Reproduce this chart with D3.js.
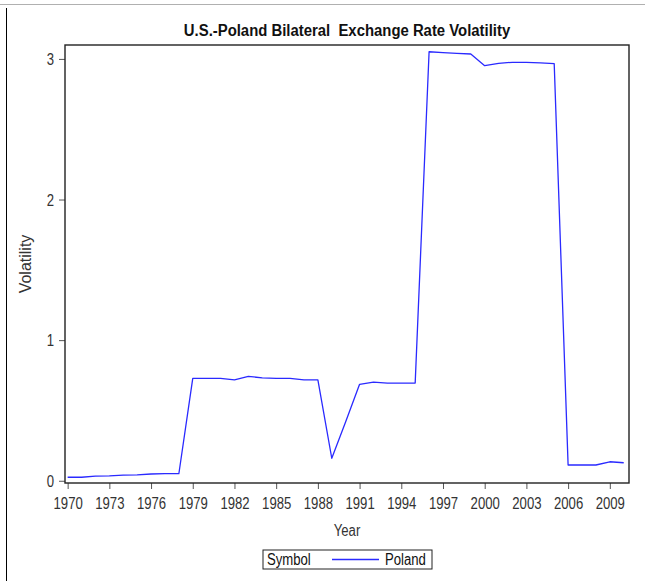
<!DOCTYPE html>
<html>
<head>
<meta charset="utf-8">
<script src="https://cdn.jsdelivr.net/npm/d3@7"></script>
<style>
  body { margin: 0; background: #fff; }
  svg text { font-family: "Liberation Sans", Arial, sans-serif; }
</style>
</head>
<body>
<div id="chart"></div>
<script>
// yearly volatility, U.S.-Poland
var years = d3.range(1970, 2011)
var volatility = [
  0.025, 0.025, 0.033, 0.035, 0.040, 0.042, 0.048, 0.050, 0.050,
  0.728, 0.728, 0.728, 0.718, 0.742, 0.732, 0.728, 0.728, 0.718, 0.718,
  0.160, 0.420, 0.686, 0.702, 0.695, 0.695, 0.695,
  3.051, 3.045, 3.040, 3.035, 2.952, 2.969, 2.976, 2.976, 2.972, 2.966,
  0.112, 0.112, 0.112, 0.135, 0.128
]
var xTicks = d3.range(1970, 2010, 3)
var yTicks = [0, 1, 2, 3]
var seriesName = 'Poland'

var W = 645, H = 581
var margin = {top: 45, right: 16, bottom: 98, left: 65}
var width = W - margin.left - margin.right
var height = H - margin.top - margin.bottom

// the original text looks horizontally condensed, so squeeze it
function squeeze (sel, k) {
  sel.each(function () {
    var w = this.getComputedTextLength()
    d3.select(this)
      .attr('textLength', w * k)
      .attr('lengthAdjust', 'spacingAndGlyphs')
  })
}

var svg = d3.select('#chart').append('svg')
  .attr('width', W)
  .attr('height', H)

// page edges
svg.append('line')
  .attr('x1', 0).attr('x2', W).attr('y1', 4.5).attr('y2', 4.5)
  .attr('stroke', '#b0b0b0')
svg.append('line')
  .attr('x1', 6.5).attr('x2', 6.5).attr('y1', 8).attr('y2', H)
  .attr('stroke', '#000')

var x = d3.scaleLinear()
  .domain([1969.81, 2010.38])
  .range([0, width])

var y = d3.scaleLinear()
  .domain([-0.016, 3.099])
  .range([height, 0])

var g = svg.append('g')
  .attr('transform', 'translate(' + margin.left + ',' + margin.top + ')')

// x axis
var xAxis = g.append('g')
  .attr('transform', 'translate(0,' + height + ')')
  .call(d3.axisBottom(x).tickValues(xTicks).tickFormat(d3.format('d')).tickSize(6).tickSizeOuter(0))
xAxis.select('.domain').remove()
xAxis.selectAll('line').attr('stroke', '#555')
xAxis.selectAll('text')
  .attr('dy', 0).attr('y', 26)
  .style('font-size', '16px').attr('fill', '#333')
  .call(squeeze, 0.82)

// y axis
var yAxis = g.append('g')
  .call(d3.axisLeft(y).tickValues(yTicks).tickFormat(d3.format('d')).tickSize(6).tickSizeOuter(0))
yAxis.select('.domain').remove()
yAxis.selectAll('line').attr('stroke', '#555')
yAxis.selectAll('text')
  .attr('x', -11).attr('dy', '0.36em')
  .style('font-size', '16px').attr('fill', '#333')
  .call(squeeze, 0.82)

// frame
g.append('rect')
  .attr('width', width).attr('height', height)
  .attr('fill', 'none')
  .attr('stroke', '#222')
  .attr('stroke-width', 1.4)

// the series
var line = d3.line()
  .x(function (d, i) { return x(years[i]) })
  .y(function (d) { return y(d) })

g.append('path')
  .datum(volatility)
  .attr('fill', 'none')
  .attr('stroke', '#2a2aff')
  .attr('stroke-width', 1.3)
  .attr('stroke-linejoin', 'round')
  .attr('d', line)

// titles
svg.append('text')
  .attr('x', margin.left + width / 2).attr('y', 36)
  .attr('text-anchor', 'middle')
  .style('font-size', '16px').style('font-weight', 'bold')
  .attr('fill', '#111')
  .attr('xml:space', 'preserve')
  .text('U.S.-Poland Bilateral  Exchange Rate Volatility')
  .call(squeeze, 0.93)

svg.append('text')
  .attr('x', margin.left + width / 2).attr('y', 536)
  .attr('text-anchor', 'middle')
  .style('font-size', '16px').attr('fill', '#333')
  .text('Year')
  .call(squeeze, 0.82)

svg.append('text')
  .attr('transform', 'translate(31,' + (margin.top + height / 2) + ') rotate(-90)')
  .attr('text-anchor', 'middle')
  .style('font-size', '16px').attr('fill', '#333')
  .text('Volatility')

// legend
var lg = svg.append('g').attr('transform', 'translate(263,550)')
lg.append('rect')
  .attr('width', 169).attr('height', 19)
  .attr('fill', '#fff').attr('stroke', '#222')
lg.append('text')
  .attr('x', 4).attr('y', 15)
  .style('font-size', '16px').attr('fill', '#111')
  .text('Symbol')
  .call(squeeze, 0.82)
lg.append('line')
  .attr('x1', 69).attr('x2', 116).attr('y1', 9.5).attr('y2', 9.5)
  .attr('stroke', '#2a2aff').attr('stroke-width', 1.3)
lg.append('text')
  .attr('x', 122).attr('y', 15)
  .style('font-size', '16px').attr('fill', '#111')
  .text(seriesName)
  .call(squeeze, 0.82)
</script>
</body>
</html>
